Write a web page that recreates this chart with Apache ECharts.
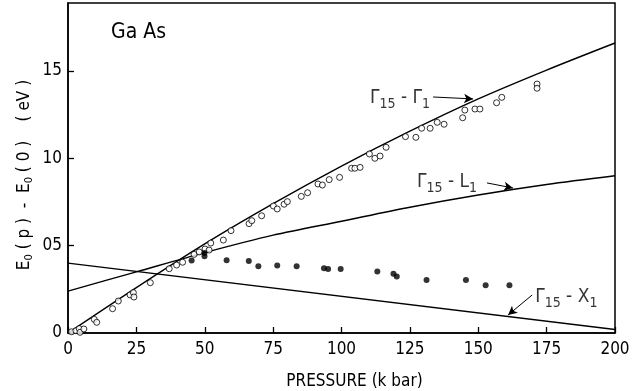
<!DOCTYPE html>
<html><head><meta charset="utf-8">
<script src="https://cdn.jsdelivr.net/npm/echarts@6/dist/echarts.min.js"></script>
<style>html,body{margin:0;padding:0;background:#fff}#c{width:637px;height:391px}</style>
</head><body><div id="c"></div>
<script>
// ---- data ----
const xTicks = [0, 25, 50, 75, 100, 125, 150, 175, 200];
const yTickLabels = {0: '0', 0.5: '05', 1: '10', 1.5: '15'};
// theoretical curves (read every 25 kbar)
const curveP = [0, 25, 50, 75, 100, 125, 150, 175, 200];
const gammaG1 = [0.0, 0.26, 0.51, 0.74, 0.955, 1.155, 1.34, 1.505, 1.66];
const gammaL1 = [0.24, 0.35, 0.46, 0.56, 0.64, 0.72, 0.79, 0.85, 0.90];
const x1P = [0, 200];
const gammaX1 = [0.40, 0.02];
// measured, open circles
const openP = [1.3,2.9,4.1,4.4,5.8,9.6,10.5,16.3,18.4,22.7,23.9,24.1,30.1,37.0,39.7,41.9,46.1,48.0,50.1,51.6,52.2,56.8,59.6,66.2,67.2,70.8,75.1,76.5,79.0,80.2,85.3,87.6,91.4,93.0,95.5,99.3,103.7,104.9,106.8,110.2,112.2,114.1,116.3,123.4,127.2,129.3,132.4,135.0,137.5,144.3,145.1,148.8,150.6,156.7,158.6,171.5,171.5];
const openE = [0.007,0.013,0.025,0.004,0.023,0.078,0.061,0.139,0.183,0.218,0.231,0.206,0.288,0.368,0.389,0.405,0.45,0.464,0.481,0.475,0.515,0.532,0.586,0.626,0.643,0.671,0.727,0.71,0.737,0.752,0.782,0.803,0.853,0.847,0.878,0.891,0.943,0.943,0.948,1.025,1.0,1.013,1.063,1.124,1.12,1.172,1.172,1.206,1.195,1.232,1.276,1.282,1.282,1.318,1.349,1.425,1.401];
// measured, filled dots
const filledP = [45.2,49.9,49.9,58.0,66.1,69.6,76.5,83.6,93.6,95.1,99.7,113.1,119.0,120.2,131.1,145.5,152.7,161.4];
const filledE = [0.415,0.458,0.44,0.416,0.412,0.382,0.386,0.382,0.371,0.366,0.366,0.352,0.339,0.323,0.304,0.304,0.273,0.273];
// annotations
const labelTexts = [['15','1','Γ'], ['15','1','L'], ['15','1','X']];
const labelAnchorP = [110.4, 127.6, 170.8];
const labelAnchorE = [1.345, 0.864, 0.206];
const arrowFromP = [133.5, 153.2, 169.7];
const arrowFromE = [1.351, 0.859, 0.2175];
const arrowToP = [148.1, 162.7, 160.9];
const arrowToE = [1.340, 0.830, 0.103];
const title = 'Ga As';
const yName = '{m|E}{s|0}{m| ( p )  -  E}{s|0}{m| ( 0 )    ( eV )}';

const FONT = '"DejaVu Sans Condensed","Liberation Sans Narrow","DejaVu Sans",sans-serif';
const zip = (a, b) => a.map((v, i) => [v, b[i]]);

const chart = echarts.init(document.getElementById('c'), null, {renderer: 'canvas'});
const lineStyle = {color: '#000', width: 1.4};
const richLabel = {
  m: {fontSize: 19, fontFamily: FONT, color: '#000'},
  s: {fontSize: 14, fontFamily: FONT, color: '#000', padding: [12, 0, 0, 0]}
};
chart.setOption({
  animation: false,
  backgroundColor: '#fff',
  grid: {left: 68, right: 22, top: 3, bottom: 58, outerBoundsMode: 'none', containLabel: false,
    show: true, borderColor: '#000', borderWidth: 1.5, backgroundColor: 'transparent'},
  xAxis: {
    type: 'value', min: 0, max: 200, interval: 25,
    axisLine: {lineStyle: {color: '#000', width: 1.5}},
    axisTick: {inside: true, length: 6, lineStyle: {color: '#000', width: 1.3}},
    axisLabel: {color: '#000', fontSize: 17, fontFamily: FONT, margin: 8},
    splitLine: {show: false},
    name: 'PRESSURE (k bar)', nameLocation: 'middle', nameGap: 40,
    nameTextStyle: {color: '#000', fontSize: 17, fontFamily: FONT, padding: [0, 0, 0, 26]}
  },
  yAxis: {
    type: 'value', min: 0, max: 1.889, interval: 0.5,
    axisLine: {lineStyle: {color: '#000', width: 1.5}},
    axisTick: {inside: true, length: 6, lineStyle: {color: '#000', width: 1.3}},
    axisLabel: {color: '#000', fontSize: 17, fontFamily: FONT, margin: 6, showMaxLabel: false,
      formatter: v => (yTickLabels[v] !== undefined ? yTickLabels[v] : '')},
    splitLine: {show: false}
  },
  title: {text: title, left: 106, top: 17, textStyle: {fontSize: 21, fontWeight: 'normal', fontFamily: FONT, color: '#000'}},
  graphic: [{
    type: 'text', x: 25, y: 175, rotation: Math.PI / 2,
    style: {text: yName, fill: '#000', align: 'center', verticalAlign: 'middle',
      rich: {
        m: {fontSize: 17, fontFamily: FONT, fill: '#000'},
        s: {fontSize: 11, fontFamily: FONT, fill: '#000', padding: [9, 0, 0, 0]}
      }}
  }],
  series: [
    {type: 'line', data: zip(curveP, gammaG1), smooth: 0.3, showSymbol: false, lineStyle, z: 3,
      markLine: {silent: true, symbol: ['none', 'arrow'], symbolSize: [7, 9], label: {show: false},
        lineStyle: {color: '#000', width: 1, type: 'solid'},
        data: arrowFromP.map((p, i) => [{coord: [p, arrowFromE[i]]}, {coord: [arrowToP[i], arrowToE[i]]}])}},
    {type: 'line', data: zip(curveP, gammaL1), smooth: 0.3, showSymbol: false, lineStyle, z: 3},
    {type: 'line', data: zip(x1P, gammaX1), showSymbol: false, lineStyle, z: 3},
    {type: 'scatter', data: zip(openP, openE), symbol: 'circle', symbolSize: 6,
      itemStyle: {color: '#fff', borderColor: '#000', borderWidth: 1}, z: 4},
    {type: 'scatter', data: zip(filledP, filledE), symbol: 'circle', symbolSize: 6,
      itemStyle: {color: '#000'}, z: 5},
    {type: 'scatter', data: zip(labelAnchorP, labelAnchorE), symbolSize: 0, silent: true, z: 6,
      label: {show: true, position: 'right', distance: 0,
        formatter: p => { const t = labelTexts[p.dataIndex]; return '{m|Γ}{s|' + t[0] + '}{m| - ' + t[2] + '}{s|' + t[1] + '}'; },
        rich: richLabel}}
  ]
});
</script></body></html>
